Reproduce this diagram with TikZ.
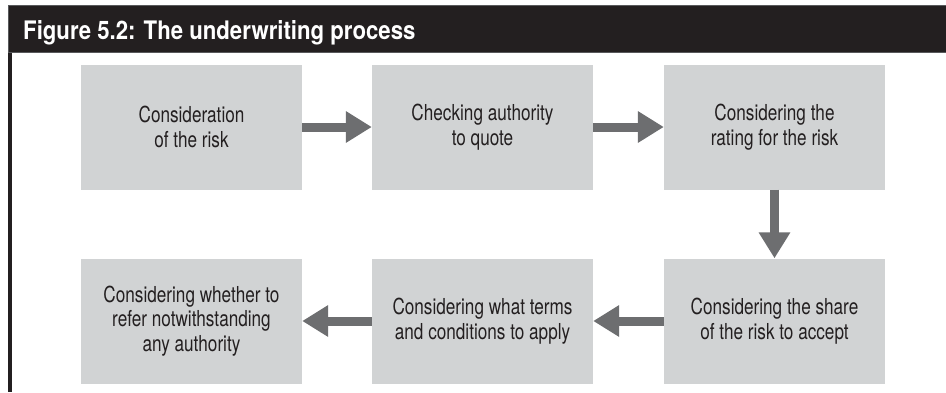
\documentclass[tikz,border=0pt]{standalone}
\usepackage{fontspec}
\setmainfont[FakeStretch=0.78]{TeX Gyre Heros}
\newfontfamily\headfont[FakeStretch=0.87]{TeX Gyre Heros}
\usetikzlibrary{arrows.meta}

\definecolor{barblack}{HTML}{231F20}
\definecolor{baredge}{HTML}{58595B}
\definecolor{boxgray}{HTML}{D1D3D4}
\definecolor{arrowgray}{HTML}{6D6E70}
\definecolor{inkdark}{HTML}{231F20}

\tikzset{
  stepbox/.style={fill=boxgray, draw=none, minimum width=221pt, minimum height=125pt,
    inner sep=0pt, align=center, text=inkdark,
    font=\fontsize{22}{24.5}\selectfont},
  flowarrow/.style={draw=arrowgray, line width=9pt,
    -{Triangle[width=30pt,length=26pt]}, arrowgray},
}

\begin{document}
\begin{tikzpicture}[x=1pt,y=-1pt]
  \useasboundingbox (0,0) rectangle (946,392);
  \fill[white] (0,0) rectangle (946,392);

  % frame: heading bar and left rule
  \fill[barblack] (8,5) rectangle (12,392);
  \filldraw[fill=barblack, draw=baredge, line width=1pt] (8,5) rectangle (947,52);
  \node[anchor=base west, text=white, inner sep=0pt,
        font=\headfont\bfseries\fontsize{25.5}{30}\selectfont] (title) at (23,39.3)
        {Figure 5.2: The underwriting process};

  % process steps
  \node[stepbox] (s1) at (191.5,127) {Consideration\\of the risk};
  \node[stepbox] (s2) at (482.5,127) {Checking authority\\to quote};
  \node[stepbox] (s3) at (774.5,127) {Considering the\\rating for the risk};
  \node[stepbox] (s4) at (774.5,321) {Considering the share\\of the risk to accept};
  \node[stepbox] (s5) at (482.5,321) {Considering what terms\\and conditions to apply};
  \node[stepbox] (s6) at (191.5,321) {Considering whether to\\refer notwithstanding\\any authority};

  % connectors
  \draw[flowarrow] (s1) -- (s2);
  \draw[flowarrow] (s2) -- (s3);
  \draw[flowarrow] (s3) -- (s4);
  \draw[flowarrow] (s4) -- (s5);
  \draw[flowarrow] (s5) -- (s6);
\end{tikzpicture}
\end{document}
